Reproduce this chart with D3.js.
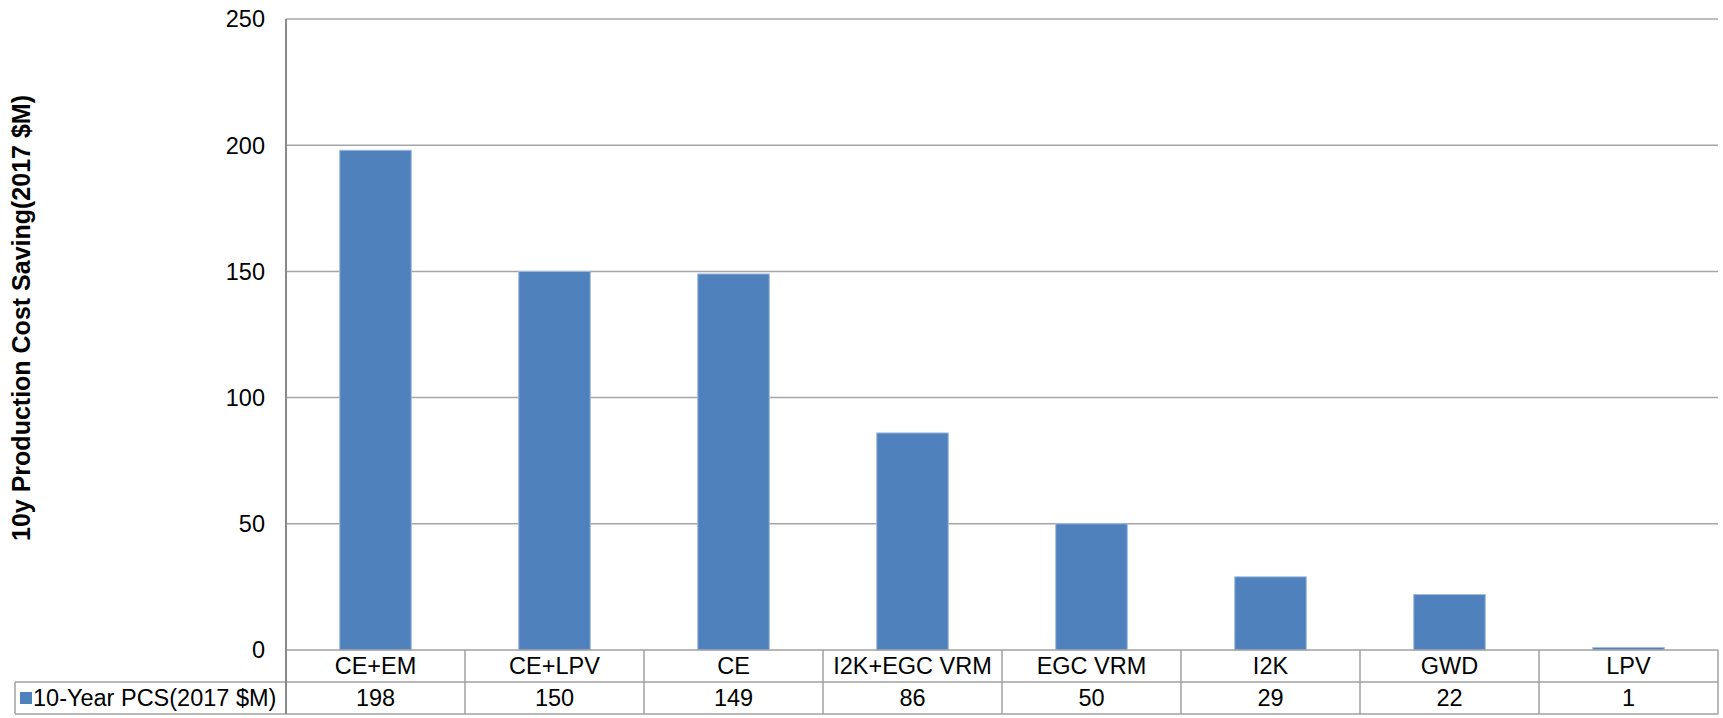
<!DOCTYPE html>
<html>
<head>
<meta charset="utf-8">
<script src="https://cdn.jsdelivr.net/npm/d3@7"></script>
<style>
  body { margin: 0; background: #fff; }
  text { font-family: "Liberation Sans", Arial, sans-serif; fill: #000; }
</style>
</head>
<body>
<script>
// data
var categories = ["CE+EM", "CE+LPV", "CE", "I2K+EGC VRM", "EGC VRM", "I2K", "GWD", "LPV"];
var values = [198, 150, 149, 86, 50, 29, 22, 1];
var yTicks = [0, 50, 100, 150, 200, 250];
var seriesName = "10-Year PCS(2017 $M)";
var yTitle = "10y Production Cost Saving(2017 $M)";

var W = 1723, H = 718;
var plotL = 286, plotR = 1718, plotT = 19, plotB = 650;
var rowH = 32;
var fs = "23.5px";

var svg = d3.select("body").append("svg").attr("width", W).attr("height", H);

var x = d3.scaleBand().domain(categories).range([plotL, plotR])
    .paddingInner(0.6).paddingOuter(0.3);
var y = d3.scaleLinear().domain([0, 250]).range([plotB, plotT]);

// gridlines
svg.append("g").selectAll("line").data(yTicks.filter(function(d) { return d > 0; }))
  .enter().append("line")
    .attr("x1", plotL).attr("x2", plotR)
    .attr("y1", function(d) { return y(d); }).attr("y2", function(d) { return y(d); })
    .attr("stroke", "#a6a6a6").attr("stroke-width", 1.5);

// y tick labels
svg.append("g").selectAll("text").data(yTicks)
  .enter().append("text")
    .attr("x", plotL - 21)
    .attr("y", function(d) { return y(d); })
    .attr("dy", "0.36em")
    .attr("text-anchor", "end")
    .style("font-size", fs)
    .text(function(d) { return d; });

// bars
svg.append("g").selectAll("rect").data(values)
  .enter().append("rect")
    .attr("x", function(d, i) { return x(categories[i]); })
    .attr("y", function(d) { return y(d); })
    .attr("width", x.bandwidth())
    .attr("height", function(d) { return y(0) - y(d); })
    .attr("fill", "#4f81bd")
    .attr("stroke", "#a3bde0").attr("stroke-width", 1);

// data table
var tbl = svg.append("g").attr("stroke", "#a0a0a0").attr("stroke-width", 1.5);
var step = x.step();
var bounds = d3.range(categories.length + 1).map(function(i) { return plotL + i * step; });

tbl.append("line").attr("x1", plotL).attr("x2", plotR).attr("y1", plotB).attr("y2", plotB);
tbl.append("line").attr("x1", 15).attr("x2", plotR).attr("y1", plotB + rowH).attr("y2", plotB + rowH);
tbl.append("line").attr("x1", 15).attr("x2", plotR).attr("y1", plotB + 2 * rowH).attr("y2", plotB + 2 * rowH);
tbl.append("line").attr("x1", 15).attr("x2", 15).attr("y1", plotB + rowH).attr("y2", plotB + 2 * rowH);
tbl.selectAll(".col").data(bounds).enter().append("line")
    .attr("x1", function(d) { return d; }).attr("x2", function(d) { return d; })
    .attr("y1", plotB).attr("y2", plotB + 2 * rowH);

// vertical axis line
svg.append("line").attr("x1", plotL).attr("x2", plotL).attr("y1", plotT).attr("y2", plotB + 2 * rowH)
    .attr("stroke", "#898989").attr("stroke-width", 2);

// category row
svg.append("g").selectAll("text").data(categories)
  .enter().append("text")
    .attr("x", function(d) { return x(d) + x.bandwidth() / 2; })
    .attr("y", plotB + rowH / 2)
    .attr("dy", "0.36em")
    .attr("text-anchor", "middle")
    .style("font-size", fs)
    .text(function(d) { return d; });

// value row
svg.append("g").selectAll("text").data(values)
  .enter().append("text")
    .attr("x", function(d, i) { return x(categories[i]) + x.bandwidth() / 2; })
    .attr("y", plotB + rowH * 1.5)
    .attr("dy", "0.36em")
    .attr("text-anchor", "middle")
    .style("font-size", fs)
    .text(function(d) { return d; });

// legend key in table
svg.append("rect").attr("x", 20).attr("y", plotB + rowH * 1.5 - 6)
    .attr("width", 12).attr("height", 12).attr("fill", "#4f81bd");
svg.append("text").attr("x", 33).attr("y", plotB + rowH * 1.5)
    .attr("dy", "0.36em")
    .style("font-size", fs)
    .text(seriesName);

// y axis title
svg.append("text")
    .attr("transform", "translate(21,318) rotate(-90)")
    .attr("text-anchor", "middle")
    .attr("dy", "0.36em")
    .style("font-size", "25px").style("font-weight", "bold")
    .text(yTitle);
</script>
</body>
</html>
